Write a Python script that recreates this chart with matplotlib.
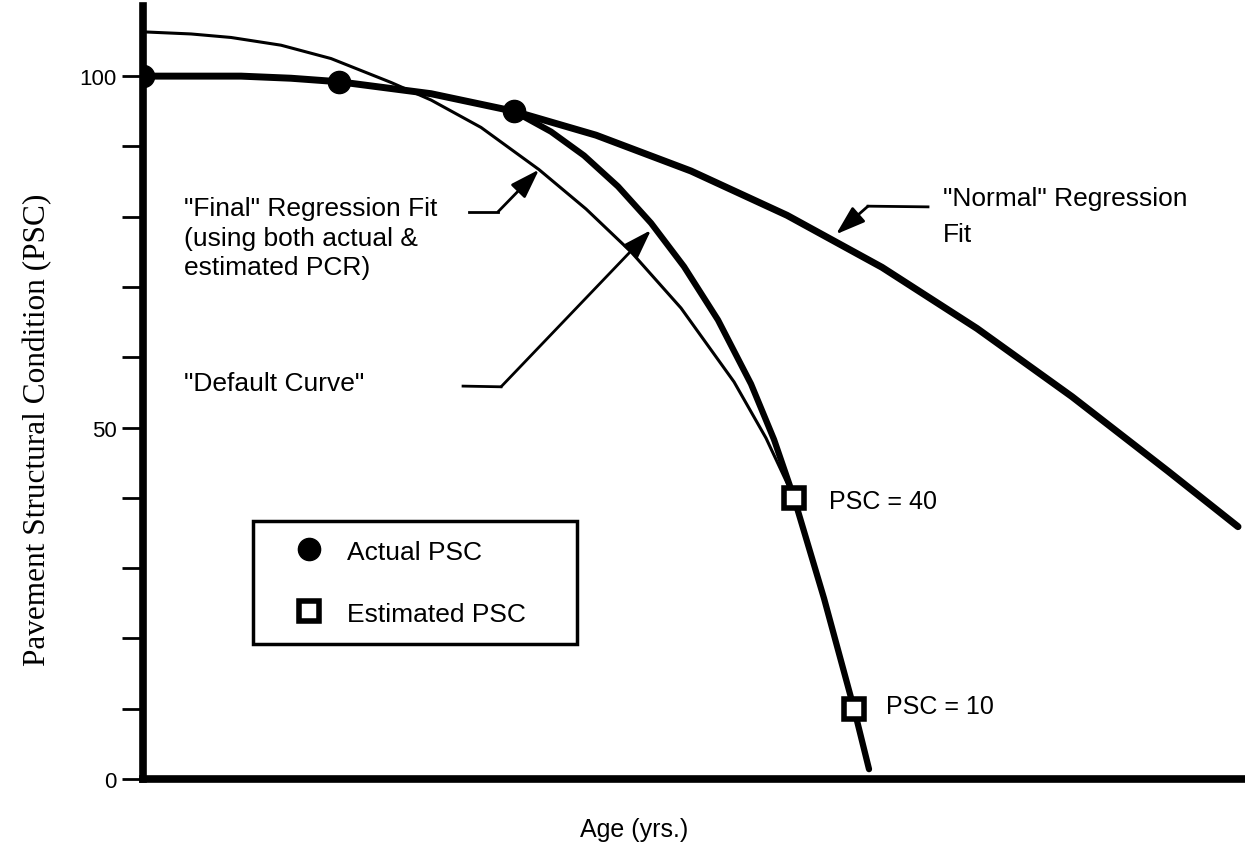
import numpy as np
from matplotlib import pyplot as plt

# values (age in yrs, PSC)
normal_age = [0, 1.96, 2.96, 3.92, 5.76, 7.42, 9.06, 10.96, 12.88, 14.78, 16.68, 18.58, 20.5, 21.9]
normal_psc = [100, 100, 99.7, 99.2, 97.5, 95.0, 91.6, 86.5, 80.2, 72.8, 64.1, 54.4, 43.8, 35.9]

final_age = [7.42, 8.16, 8.82, 9.5, 10.16, 10.82, 11.5, 12.16, 12.62, 13.02, 13.62, 14.22, 14.52]
final_psc = [95.0, 92.1, 88.7, 84.3, 79.1, 72.9, 65.3, 56.2, 48.3, 40.0, 25.7, 10.0, 1.4]

default_age = [0, 0.96, 1.76, 2.76, 3.76, 4.96, 5.76, 6.76, 7.92, 8.86, 9.76, 10.76,
               11.82, 12.46, 13.02, 13.62, 14.22, 14.52]
default_psc = [106.3, 106.0, 105.5, 104.4, 102.5, 99.1, 96.6, 92.7, 86.7, 81.1, 75.0, 67.0,
               56.5, 48.5, 40.0, 25.7, 10.0, 1.4]

actual_age = [0, 3.92, 7.42]
actual_psc = [100, 99.2, 95.0]

est_age = [13.02, 14.22]
est_psc = [40, 10]

SANS = 'Liberation Sans'

fig = plt.figure(figsize=(12.45, 8.45), dpi=100)
ax = fig.add_axes([0.1149, 0.0769, 0.8835, 0.915])

ax.plot(default_age, default_psc, color='black', lw=2.2, solid_capstyle='round',
        solid_joinstyle='round', zorder=2)
ax.plot(normal_age, normal_psc, color='black', lw=5.0, solid_capstyle='round',
        solid_joinstyle='round', zorder=3)
ax.plot(final_age, final_psc, color='black', lw=4.5, solid_capstyle='round',
        solid_joinstyle='round', zorder=3)

h1, = ax.plot(actual_age, actual_psc, 'o', ms=16, color='black', ls='none',
              label='Actual PSC', zorder=5)
h2, = ax.plot(est_age, est_psc, 's', ms=14, mfc='white', mec='black', mew=4,
              ls='none', label='Estimated PSC', zorder=5)

ax.set_xlim(0, 22)
ax.set_ylim(0, 110)
for s in ['top', 'right']:
    ax.spines[s].set_visible(False)
for s in ['left', 'bottom']:
    ax.spines[s].set_linewidth(5.5)

ax.set_xticks([])
ax.set_yticks([0, 50, 100])
ax.set_yticks(np.arange(10, 100, 10), minor=True)
ax.tick_params(axis='y', which='both', direction='out', length=15, width=2, pad=4,
               labelsize=16)
for t in ax.get_yticklabels():
    t.set_fontfamily(SANS)

ax.set_ylabel('Pavement Structural Condition (PSC)', fontsize=22.5,
              fontfamily='Liberation Serif')
ax.yaxis.set_label_coords(-0.083, 0.453)
ax.set_xlabel('Age (yrs.)', fontsize=18, fontfamily=SANS)
ax.xaxis.set_label_coords(0.446, -0.049)

fs = 19
ax.text(0.82, 81.3, '"Final" Regression Fit', fontsize=fs, fontfamily=SANS, va='center')
ax.text(0.82, 77.0, '(using both actual &', fontsize=fs, fontfamily=SANS, va='center')
ax.text(0.82, 72.9, 'estimated PCR)', fontsize=fs, fontfamily=SANS, va='center')
ax.text(0.82, 56.4, '"Default Curve"', fontsize=fs, fontfamily=SANS, va='center')
ax.text(16.0, 82.6, '"Normal" Regression', fontsize=fs, fontfamily=SANS, va='center')
ax.text(16.0, 77.5, 'Fit', fontsize=fs, fontfamily=SANS, va='center')
ax.text(13.72, 39.5, 'PSC = 40', fontsize=18, fontfamily=SANS, va='center')
ax.text(14.86, 10.4, 'PSC = 10', fontsize=18, fontfamily=SANS, va='center')

# leader lines with arrow heads
arrows = [
    ((6.52, 80.7), (7.1, 80.7), (7.92, 86.7)),
    ((6.4, 55.9), (7.16, 55.8), (10.16, 78.1)),
    ((15.7, 81.4), (14.5, 81.5), (13.86, 77.5)),
]
for p0, p1, tip in arrows:
    ax.plot([p0[0], p1[0]], [p0[1], p1[1]], color='black', lw=2)
    ax.annotate('', xy=tip, xytext=p1,
                arrowprops=dict(arrowstyle='-|>,head_length=0.9,head_width=0.3',
                                lw=2, color='black', shrinkA=0, shrinkB=0,
                                mutation_scale=20))

leg = ax.legend(handles=[h1, h2], loc='upper left',
                bbox_to_anchor=(0.1, 0.159, 0.2945, 0.1746), mode='expand',
                borderaxespad=0, fancybox=False, edgecolor='black', framealpha=1,
                prop={'family': SANS, 'size': fs}, borderpad=0.7, handlelength=2.85,
                handletextpad=0.0, labelspacing=1.44, numpoints=1)
leg.get_frame().set_linewidth(2.5)

fig.savefig('out.png', dpi=100)
